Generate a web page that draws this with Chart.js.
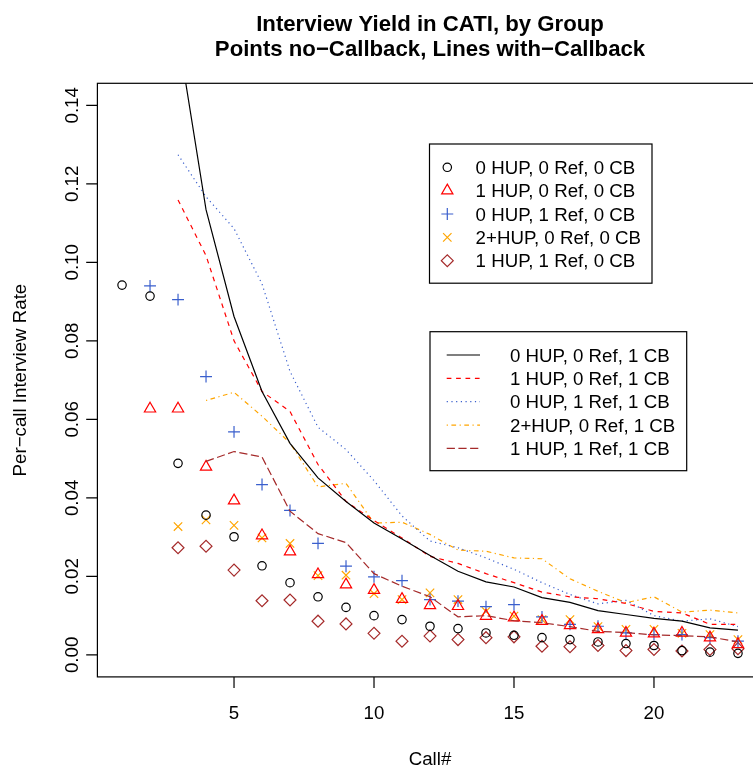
<!DOCTYPE html>
<html><head><meta charset="utf-8">
<script src="https://cdn.jsdelivr.net/npm/chart.js@4/dist/chart.umd.min.js"></script>
<style>html,body{margin:0;padding:0;overflow:hidden;background:#fff}canvas{display:block}</style>
</head><body>
<canvas id="c" width="780" height="766"></canvas>
<script>
// ---- data ----
const calls = [1,2,3,4,5,6,7,8,9,10,11,12,13,14,15,16,17,18,19,20,21,22,23];
const seriesNames = ["0 HUP, 0 Ref, 0 CB","1 HUP, 0 Ref, 0 CB","0 HUP, 1 Ref, 0 CB","2+HUP, 0 Ref, 0 CB","1 HUP, 1 Ref, 0 CB"];
const lineNames = ["0 HUP, 0 Ref, 1 CB","1 HUP, 0 Ref, 1 CB","0 HUP, 1 Ref, 1 CB","2+HUP, 0 Ref, 1 CB","1 HUP, 1 Ref, 1 CB"];
// points: no callback
const h0r0 = [0.0942,0.0914,0.0488,0.0356,0.0301,0.0227,0.0184,0.0148,0.0121,0.0100,0.0090,0.0073,0.0067,0.0056,0.0050,0.0044,0.0039,0.0033,0.0029,0.0024,0.0011,0.0007,0.0004];
const h1r0 = [null,0.0627,0.0627,0.0479,0.0393,0.0304,0.0263,0.0205,0.0179,0.0165,0.0142,0.0126,0.0124,0.0099,0.0095,0.0086,0.0075,0.0065,0.0056,0.0054,0.0056,0.0044,0.0027];
const h0r1 = [null,0.0940,0.0905,0.0709,0.0568,0.0434,0.0368,0.0284,0.0226,0.0199,0.0189,0.0141,0.0137,0.0123,0.0128,0.0097,0.0078,0.0073,0.0056,0.0052,0.0052,0.0044,0.0035];
const h2r0 = [null,null,0.0327,0.0344,0.0330,0.0298,0.0284,0.0202,0.0203,0.0156,0.0141,0.0158,0.0141,0.0111,0.0099,0.0090,0.0090,0.0072,0.0065,0.0065,0.0055,0.0052,0.0039];
const h1r1 = [null,null,0.0273,0.0277,0.0216,0.0138,0.0140,0.0086,0.0079,0.0055,0.0035,0.0048,0.0039,0.0044,0.0046,0.0022,0.0021,0.0024,0.0011,0.0014,0.0010,0.0014,0.0016];
// lines: with callback
const cb_h0r0 = [null,null,0.158,0.1134,0.0862,0.0671,0.0539,0.0451,0.0391,0.0336,0.0295,0.0253,0.0213,0.0186,0.0173,0.0146,0.0134,0.0113,0.0103,0.0093,0.0086,0.0069,0.0063];
const cb_h1r0 = [null,null,0.1159,0.1017,0.0800,0.0671,0.0620,0.0485,0.0391,0.0342,0.0298,0.0251,0.0233,0.0207,0.0184,0.0160,0.0148,0.0143,0.0131,0.0111,0.0107,0.0078,0.0078];
const cb_h0r1 = [null,null,0.1274,0.1167,0.1086,0.0945,0.0722,0.0580,0.0523,0.0444,0.0354,0.0290,0.0273,0.0247,0.0218,0.0184,0.0154,0.0130,0.0139,0.0100,0.0086,0.0092,0.0072];
const cb_h2r0 = [null,null,null,0.0648,0.0669,0.0608,0.0540,0.0428,0.0437,0.0336,0.0338,0.0307,0.0267,0.0264,0.0247,0.0245,0.0194,0.0162,0.0133,0.0148,0.0109,0.0114,0.0107];
const cb_h1r1 = [null,null,null,0.0493,0.0518,0.0504,0.0366,0.0309,0.0286,0.0207,0.0175,0.0148,0.0097,0.0100,0.0087,0.0082,0.0072,0.0060,0.0057,0.0051,0.0049,0.0046,0.0033];
// axes
const xTicks = [5,10,15,20];
const yTicks = [0,0.02,0.04,0.06,0.08,0.10,0.12,0.14];
const yTickLabels = ["0.00","0.02","0.04","0.06","0.08","0.10","0.12","0.14"];
const titleLines = ["Interview Yield in CATI, by Group","Points no\u2212Callback, Lines with\u2212Callback"];
const xTitle = "Call#";
const yTitle = "Per\u2212call Interview Rate";

// ---- styles ----
const COLORS = ["#000000","#FF0000","#3A5FCD","#FFA500","#A52A2A"];
const PSTYLE = [
  {s:"circle", r:4.2},
  {s:"triangle", r:6.5},
  {s:"cross", r:5.95},
  {s:"crossRot", r:5.94},
  {s:"rectRot", r:5.94}
];
const DASH = [[], [4.7,4.7], [1.2,3.5], [1.2,3.5,4.7,3.5], [8.2,3.5]];
const LW = 1.2;
const FONT = "'Liberation Sans', Arial, Helvetica, sans-serif";

const toXY = arr => calls.map((c,i)=>({x:c, y:arr[i]}));
const pointSeries = [h0r0,h1r0,h0r1,h2r0,h1r1];
const lineSeries = [cb_h0r0,cb_h1r0,cb_h0r1,cb_h2r0,cb_h1r1];

const datasets = [];
lineSeries.forEach((arr,i)=>{
  datasets.push({
    label: lineNames[i], data: toXY(arr), showLine: true,
    borderColor: COLORS[i], borderWidth: LW, borderDash: DASH[i],
    pointRadius: 0, fill: false, tension: 0, spanGaps: false
  });
});
pointSeries.forEach((arr,i)=>{
  datasets.push({
    label: seriesNames[i], data: toXY(arr), showLine: false,
    pointStyle: PSTYLE[i].s, pointRadius: PSTYLE[i].r,
    pointBorderColor: COLORS[i], pointBackgroundColor: 'rgba(0,0,0,0)',
    pointBorderWidth: LW, borderColor: COLORS[i]
  });
});

function drawSym(ctx, style, r, x, y){
  ctx.beginPath();
  const Q = Math.PI/4;
  switch(style){
    case 'circle': ctx.arc(x,y,r,0,Math.PI*2); ctx.closePath(); break;
    case 'triangle': {
      let rad = 0;
      ctx.moveTo(x + Math.sin(rad)*r, y - Math.cos(rad)*r);
      rad += 2*Math.PI/3;
      ctx.lineTo(x + Math.sin(rad)*r, y - Math.cos(rad)*r);
      rad += 2*Math.PI/3;
      ctx.lineTo(x + Math.sin(rad)*r, y - Math.cos(rad)*r);
      ctx.closePath(); break; }
    case 'cross':
      ctx.moveTo(x, y-r); ctx.lineTo(x, y+r); ctx.moveTo(x-r, y); ctx.lineTo(x+r, y); break;
    case 'crossRot': {
      const o = Math.cos(Q)*r;
      ctx.moveTo(x-o,y-o); ctx.lineTo(x+o,y+o); ctx.moveTo(x-o,y+o); ctx.lineTo(x+o,y-o); break; }
    case 'rectRot':
      ctx.moveTo(x-r,y); ctx.lineTo(x,y-r); ctx.lineTo(x+r,y); ctx.lineTo(x,y+r); ctx.closePath(); break;
  }
  ctx.stroke();
}

const rPlot = {
  id: 'rPlot',
  afterDraw(chart){
    const ctx = chart.ctx, ca = chart.chartArea;
    const xs = chart.scales.x, ys = chart.scales.y;
    ctx.save();
    ctx.strokeStyle = '#000'; ctx.lineWidth = LW; ctx.setLineDash([]);
    // box
    ctx.strokeRect(ca.left, ca.top, ca.right-ca.left, ca.bottom-ca.top);
    const TL = 11.2;
    ctx.beginPath();
    xTicks.forEach(v=>{ const px = xs.getPixelForValue(v); ctx.moveTo(px, ca.bottom); ctx.lineTo(px, ca.bottom+TL); });
    yTicks.forEach(v=>{ const py = ys.getPixelForValue(v); ctx.moveTo(ca.left, py); ctx.lineTo(ca.left-TL, py); });
    ctx.stroke();
    ctx.fillStyle = '#000';
    ctx.font = '18.7px ' + FONT;
    ctx.textAlign = 'center'; ctx.textBaseline = 'alphabetic';
    xTicks.forEach(v=>{ ctx.fillText(String(v), xs.getPixelForValue(v), 719.3); });
    yTicks.forEach((v,i)=>{
      ctx.save(); ctx.translate(78, ys.getPixelForValue(v)); ctx.rotate(-Math.PI/2);
      ctx.fillText(yTickLabels[i], 0, 0); ctx.restore();
    });
    const cx = (ca.left+ca.right)/2, cy = (ca.top+ca.bottom)/2;
    ctx.fillText(xTitle, cx, 764.5);
    ctx.save(); ctx.translate(26, cy); ctx.rotate(-Math.PI/2); ctx.fillText(yTitle, 0, 0); ctx.restore();
    ctx.font = 'bold 22.2px ' + FONT;
    ctx.fillText(titleLines[0], cx, 31.2);
    ctx.fillText(titleLines[1], cx, 56.2);

    // legend 1 (points)
    ctx.font = '18.7px ' + FONT;
    ctx.textAlign = 'left';
    const L1 = {left:429.5, top:144, right:652, bottom:283.2};
    ctx.fillStyle = '#fff'; ctx.fillRect(L1.left, L1.top, L1.right-L1.left, L1.bottom-L1.top);
    ctx.strokeStyle = '#000'; ctx.strokeRect(L1.left, L1.top, L1.right-L1.left, L1.bottom-L1.top);
    seriesNames.forEach((n,i)=>{
      const y = 167.3 + i*23.35;
      ctx.strokeStyle = COLORS[i]; ctx.lineWidth = LW;
      drawSym(ctx, PSTYLE[i].s, PSTYLE[i].r, 447.3, y);
      ctx.fillStyle = '#000'; ctx.fillText(n, 475.6, y + 6.7);
    });
    // legend 2 (lines)
    const L2 = {left:430, top:331.7, right:686.7, bottom:470.7};
    ctx.fillStyle = '#fff'; ctx.fillRect(L2.left, L2.top, L2.right-L2.left, L2.bottom-L2.top);
    ctx.strokeStyle = '#000'; ctx.lineWidth = LW; ctx.strokeRect(L2.left, L2.top, L2.right-L2.left, L2.bottom-L2.top);
    lineNames.forEach((n,i)=>{
      const y = 355 + i*23.35;
      ctx.strokeStyle = COLORS[i]; ctx.lineWidth = LW; ctx.setLineDash(DASH[i]);
      ctx.beginPath(); ctx.moveTo(446.7, y); ctx.lineTo(480, y); ctx.stroke();
      ctx.setLineDash([]);
      ctx.fillStyle = '#000'; ctx.fillText(n, 510, y + 6.7);
    });
    ctx.restore();
  }
};

new Chart(document.getElementById('c'), {
  type: 'scatter',
  data: { datasets },
  options: {
    responsive: false, animation: false, events: [],
    devicePixelRatio: 1,
    layout: { padding: { left: 97.4, top: 83.3, right: 780-762.6, bottom: 766-676.9 } },
    plugins: { legend: {display:false}, title: {display:false}, tooltip: {enabled:false} },
    scales: {
      x: { type:'linear', min:0.12, max:23.88, display:false },
      y: { type:'linear', min:-0.0056, max:0.1456, display:false }
    }
  },
  plugins: [rPlot]
});
</script>
</body></html>
